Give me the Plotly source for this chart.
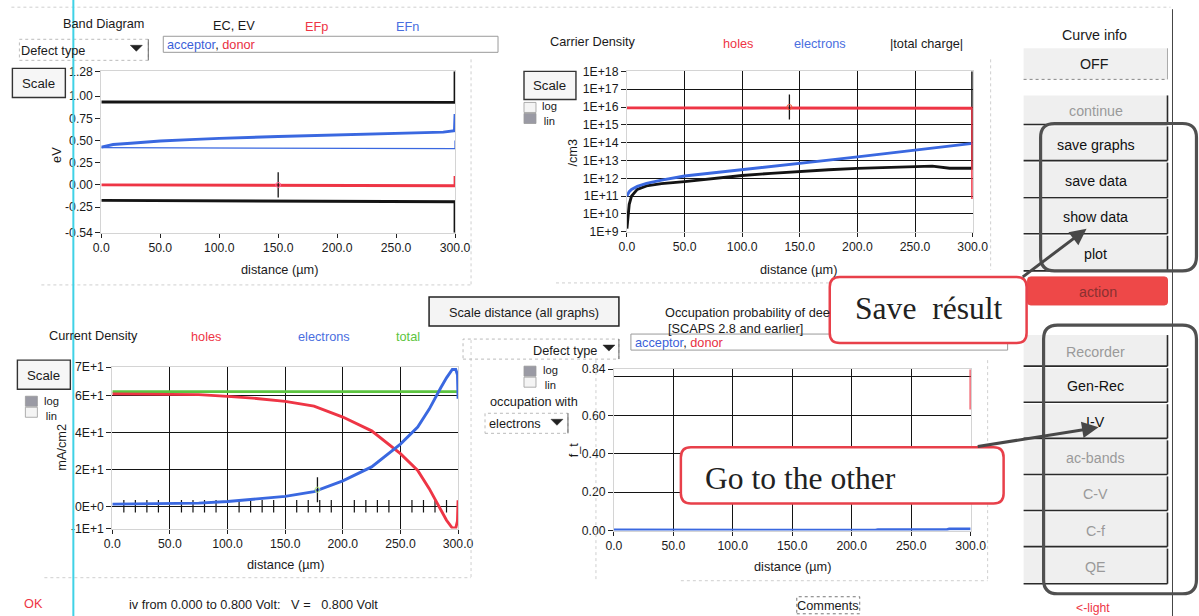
import plotly.graph_objects as go

# screen layout is described in window pixels (1199 x 616); the figure canvas is
# slightly larger and offset, so window pixels are converted to canvas fractions
SX, AX = 0.981, 7.6
SY, AY = 0.975, 7.8
W, H = 1214, 624

# ---------------- data ----------------
dist_ticks = [0, 50, 100, 150, 200, 250, 300]
dist_labels = ["0.0", "50.0", "100.0", "150.0", "200.0", "250.0", "300.0"]

# Band diagram (eV)
ec_x = [0.0, 300.0, 300.0]
ec_v = [0.935, 0.93, 1.28]
ev_x = [0.0, 300.0, 300.0]
ev_v = [-0.175, -0.19, -0.54]
efp_x = [0.0, 150.0, 300.0, 300.0]
efp_v = [0.0, -0.005, -0.01, 0.10]
efn_x = [0, 5, 10, 25, 50, 75, 100, 150, 200, 250, 290, 299.5, 300]
efn_v = [0.425, 0.44, 0.455, 0.47, 0.495, 0.51, 0.525, 0.545, 0.56, 0.58, 0.595, 0.61, 0.80]
lvl_x = [0.0, 300.0, 300.0]
lvl_v = [0.42, 0.41, 0.50]
band_ticks = [1.28, 1.00, 0.75, 0.50, 0.25, 0.00, -0.25, -0.54]
band_labels = ["1.28", "1.00", "0.75", "0.50", "0.25", "0.00", "-0.25", "-0.54"]

# Carrier density (/cm3)
n_x = [0, 1, 2, 4, 9, 17, 30, 50, 75, 100, 125, 150, 175, 200, 225, 250, 265, 280, 300]
n_v = [1.0e11, 1.4e11, 1.8e11, 2.4e11, 3.5e11, 5.2e11, 7.9e11, 1.35e12, 2.0e12, 2.95e12,
       4.5e12, 6.9e12, 1.05e13, 1.6e13, 2.45e13, 3.7e13, 4.8e13, 6.3e13, 9.1e13]
q_x = [0, 1, 2, 4, 9, 17, 30, 50, 75, 100, 125, 150, 175, 200, 225, 250, 265, 280, 300, 300]
q_v = [1.5e9, 1.2e10, 3.5e10, 1.0e11, 2.4e11, 3.8e11, 5.0e11, 6.5e11, 1.0e12, 1.45e12,
       1.9e12, 2.5e12, 3.0e12, 3.6e12, 4.0e12, 4.8e12, 4.8e12, 3.7e12, 3.7e12, 1.0e18]
p_x = [0.0, 300.0, 300.0]
p_v = [9.0e15, 8.6e15, 7.0e10]
dens_ticks = [1e18, 1e17, 1e16, 1e15, 1e14, 1e13, 1e12, 1e11, 1e10, 1e9]
dens_labels = ["1E+18", "1E+17", "1E+16", "1E+15", "1E+14", "1E+13", "1E+12", "1E+11", "1E+10", "1E+9"]
dens_grid = [1e17, 1e16, 1e15, 1e14, 1e13, 1e12, 1e11, 1e10]

# Current density (mA/cm2)
j_x = [0, 25, 50, 75, 100, 125, 150, 175, 200, 225, 250, 265, 275, 285, 290, 295, 298, 299.5, 300]
jp_v = [61.1, 61.1, 61.0, 60.7, 59.7, 58.6, 57.0, 54.4, 48.5, 41.0, 28.6, 19.5, 9.6, -2.2,
        -7.6, -11.8, -11.8, -8.0, 3.3]
jn_v = [1.2, 1.3, 1.4, 1.7, 2.6, 3.8, 5.4, 8.0, 13.8, 21.4, 33.8, 43.0, 52.8, 64.4,
        69.8, 74.3, 74.3, 71.5, 58.4]
jt_x = [0.0, 300.0]
jt_v = [62.3, 62.3]
cur_range = [-12.1, 75.6]
cur_ticks = [75.6, 60, 40, 20, 0, -12.1]
cur_labels = ["7E+1", "6E+1", "4E+1", "2E+1", "0E+0", "-1E+1"]
cur_grid = [60, 40, 20, 0]

# Occupation probability f_t
occ_x = [0, 100, 150, 220, 222, 280, 282, 300]
occ_acc = [0.003, 0.002, 0.001, 0.002, 0.005, 0.005, 0.009, 0.009]
occ_don_x = [300.0, 300.0]
occ_don = [0.84, 0.63]
occ_ticks = [0.84, 0.60, 0.40, 0.20, 0.00]
occ_labels = ["0.84", "0.60", "0.40", "0.20", "0.00"]
occ_grid = [0.8, 0.6, 0.4, 0.2]

# graph cursors
cursor_band = (150.0, 0.0)
cursor_dens = (141.0, 1e16)
cursor_cur = (178.0, 9.0)

# ---------------- helpers ----------------
def X(px):
    return ((px - AX) / SX) / W

def Y(py):
    return 1 - ((py - AY) / SY) / H

FS = 1 / SX  # font scale so that text keeps its screen size

RED = "#ee3545"
BLUE = "#3a68e0"
BLACK = "#141414"
GREEN = "#5cc440"
LBLUE = "#4a6ee0"
FONT = "Liberation Sans"

fig = go.Figure()

def line(x, y, color, width, ax):
    fig.add_trace(go.Scatter(x=x, y=y, mode="lines", line=dict(color=color, width=width),
                             xaxis="x" + ax, yaxis="y" + ax, hoverinfo="skip",
                             showlegend=False))

def cursor(pt, ax):
    fig.add_trace(go.Scatter(x=[pt[0]], y=[pt[1]], mode="markers",
                             marker=dict(symbol="line-ns", size=18,
                                         line=dict(color=BLACK, width=1.3)),
                             xaxis="x" + ax, yaxis="y" + ax, showlegend=False, hoverinfo="skip"))
    fig.add_trace(go.Scatter(x=[pt[0]], y=[pt[1]], mode="markers",
                             marker=dict(symbol="circle-open", size=5,
                                         line=dict(color=BLACK, width=1)),
                             xaxis="x" + ax, yaxis="y" + ax, showlegend=False, hoverinfo="skip"))

LW = 2.9

# Band diagram
line(ec_x, ec_v, BLACK, LW, "")
line(ev_x, ev_v, BLACK, LW, "")
line(lvl_x, lvl_v, BLUE, 1.3, "")
line(efn_x, efn_v, BLUE, LW, "")
line(efp_x, efp_v, RED, LW, "")
cursor(cursor_band, "")

# Carrier density
line(q_x, q_v, BLACK, LW, "2")
line(n_x, n_v, BLUE, LW, "2")
line(p_x, p_v, RED, LW, "2")
cursor(cursor_dens, "2")

# Current density: small marks along the zero line
zero_marks = [v for v in range(10, 300, 10) if v % 50 != 0]
fig.add_trace(go.Scatter(x=zero_marks, y=[0] * len(zero_marks), mode="markers",
                         marker=dict(symbol="line-ns", size=9, line=dict(color=BLACK, width=1.2)),
                         xaxis="x3", yaxis="y3", showlegend=False, hoverinfo="skip"))
line(jt_x, jt_v, GREEN, LW, "3")
line(j_x, jp_v, RED, LW, "3")
line(j_x, jn_v, BLUE, LW, "3")
cursor(cursor_cur, "3")

# Occupation
line(occ_x, occ_acc, BLUE, LW, "4")
line(occ_don_x, occ_don, RED, 2.2, "4")

# ---------------- axes ----------------
TICKFONT = dict(family=FONT, size=12 * FS, color="#1a1a1a")

def xaxis(domain, anchor, grid):
    d = dict(domain=[X(domain[0]), X(domain[1])], anchor=anchor, range=[0, 300],
             tickvals=dist_ticks, ticktext=dist_labels, ticks="outside", ticklen=4,
             tickcolor="#222", tickwidth=1.2, showgrid=False, zeroline=False,
             showline=True, linecolor="#d4d4d4", linewidth=1, mirror=True,
             tickfont=TICKFONT, fixedrange=True)
    if grid:
        d["minor"] = dict(tickvals=[50, 100, 150, 200, 250], showgrid=True,
                          gridcolor=BLACK, gridwidth=1.4, ticks="")
    return d

def yaxis(domain, anchor, rng, tv, tt, grid=None, typ="linear"):
    d = dict(domain=[Y(domain[1]), Y(domain[0])], anchor=anchor, range=rng, type=typ,
             tickvals=tv, ticktext=tt, ticks="outside", ticklen=5, tickcolor="#222",
             tickwidth=1.2, showgrid=False, zeroline=False, showline=True,
             linecolor="#d4d4d4", linewidth=1, mirror=True,
             tickfont=TICKFONT, fixedrange=True)
    if grid:
        d["minor"] = dict(tickvals=grid, showgrid=True, gridcolor=BLACK, gridwidth=1.4, ticks="")
    return d

layout_axes = dict(
    xaxis=xaxis((100, 454), "y", False),
    yaxis=yaxis((72, 233), "x", [-0.54, 1.28], band_ticks, band_labels),
    xaxis2=xaxis((626, 972), "y2", True),
    yaxis2=yaxis((72, 232), "x2", [9, 18], dens_ticks, dens_labels, dens_grid, "log"),
    xaxis3=xaxis((111, 457), "y3", True),
    yaxis3=yaxis((367, 528), "x3", cur_range, cur_ticks, cur_labels, cur_grid),
    xaxis4=xaxis((613, 970), "y4", True),
    yaxis4=yaxis((369, 530), "x4", [0, 0.84], occ_ticks, occ_labels, occ_grid),
)

# ---------------- texts & widgets ----------------
annotations = []
shapes = []

def text(t, x, y, size=12.5, color="#1a1a1a", anchor="center", family=FONT, angle=0):
    annotations.append(dict(text=t, x=X(x), y=Y(y), xref="paper", yref="paper",
                            showarrow=False, xanchor=anchor, yanchor="middle",
                            textangle=angle, borderpad=0,
                            font=dict(family=family, size=size * FS, color=color)))

def rect(x0, y0, x1, y1, fill="rgba(0,0,0,0)", color="#333", width=1, dash="solid"):
    shapes.append(dict(type="rect", xref="paper", yref="paper", x0=X(x0), x1=X(x1),
                       y0=Y(y1), y1=Y(y0), fillcolor=fill,
                       line=dict(color=color, width=width, dash=dash), layer="above"))

def seg(x0, y0, x1, y1, color="#333", width=1, dash="solid"):
    shapes.append(dict(type="line", xref="paper", yref="paper", x0=X(x0), x1=X(x1),
                       y0=Y(y0), y1=Y(y1), line=dict(color=color, width=width, dash=dash),
                       layer="above"))

def tri(cx, cy):
    p = "M %f,%f L %f,%f L %f,%f Z" % (X(cx - 6), Y(cy - 3), X(cx + 6), Y(cy - 3), X(cx), Y(cy + 3))
    shapes.append(dict(type="path", xref="paper", yref="paper", path=p, fillcolor="#222",
                       line=dict(color="#222", width=0.5), layer="above"))

def rrect(x0, y0, x1, y1, r, color, width, fill="rgba(0,0,0,0)"):
    pts = [
        ("M", [(x0 + r, y0)]), ("L", [(x1 - r, y0)]), ("Q", [(x1, y0), (x1, y0 + r)]),
        ("L", [(x1, y1 - r)]), ("Q", [(x1, y1), (x1 - r, y1)]), ("L", [(x0 + r, y1)]),
        ("Q", [(x0, y1), (x0, y1 - r)]), ("L", [(x0, y0 + r)]), ("Q", [(x0, y0), (x0 + r, y0)]),
    ]
    p = " ".join(c + " " + " ".join("%f,%f" % (X(a), Y(b)) for a, b in ps) for c, ps in pts) + " Z"
    shapes.append(dict(type="path", xref="paper", yref="paper", path=p, fillcolor=fill,
                       line=dict(color=color, width=width), layer="above"))

def button(x0, y0, x1, y1, label, tcolor="#111", fill="#efefef", size=14):
    rect(x0, y0, x1, y1, fill=fill, color=fill, width=0)
    seg(x0, y1, x1, y1, "#2a2a2a", 1.6)
    seg(x1, y0, x1, y1, "#2a2a2a", 1.6)
    text(label, (x0 + x1) / 2, (y0 + y1) / 2 + 1, size=size, color=tcolor)

def checkbox(x, y, log_on):
    for i, on in enumerate([log_on, not log_on]):
        rect(x, y + i * 11, x + 12, y + i * 11 + 10, fill="#9a9aa4" if on else "#f4f4f4",
             color="#9a9a9a", width=0.8)

def loglin(x, y):
    text("log<br>lin", x, y, size=11, anchor="left")

# faint panel frames
for a in [(10, 8, 1170, 8), (40, 285, 470, 285), (470, 60, 470, 285), (555, 283, 830, 283),
          (990, 60, 990, 270), (43, 577, 470, 577), (680, 580, 987, 580), (987, 360, 987, 580),
          (470, 340, 470, 577), (595, 360, 595, 580)]:
    seg(*a, color="#cfcfcf", width=1, dash="dot")

# Band diagram header
text("Band Diagram", 102, 24)
text("EC, EV", 233, 26)
text("EFp", 315, 27, color=RED)
text("EFn", 406, 27, color=LBLUE)
rect(18, 40, 147, 61, color="#bbbbbb", width=1, dash="dot")
seg(147, 40, 147, 61, "#666", 1)
text("Defect type", 19, 51, anchor="left")
tri(135, 49)
rect(162, 37, 497, 53, color="#9a9a9a", width=1)
text('<span style="color:#3b5fd8">acceptor</span>, <span style="color:#e8303f">donor</span>',
     165, 45, anchor="left")
rect(11, 69, 64, 98, fill="#f6f6f6", color="#333", width=1.4)
text("Scale", 37, 84, size=13)
text("eV", 55, 155, angle=-90)
text("distance (µm)", 278, 270)

# Carrier density header
text("Carrier Density", 592, 42)
text("holes", 737, 44, color=RED)
text("electrons", 819, 44, color=LBLUE)
text("|total charge|", 926, 44)
rect(523, 72, 575, 100, fill="#f6f6f6", color="#333", width=1.4)
text("Scale", 549, 86, size=13)
checkbox(523, 103, False)
loglin(540, 114)
text("/cm3", 572, 153, angle=-90)
text("distance (µm)", 798, 270)

# Current density header
text("Current Density", 92, 335)
text("holes", 205, 336, color=RED)
text("electrons", 323, 336, color=LBLUE)
text("total", 407, 336, color=GREEN)
rect(16, 360, 69, 389, fill="#f6f6f6", color="#333", width=1.4)
text("Scale", 42, 375, size=13)
checkbox(24, 396, True)
loglin(42, 408)
text("mA/cm2", 60, 447, angle=-90)
text("distance (µm)", 284, 564)

# centre controls
rect(428, 297, 618, 326, fill="#f4f4f4", color="#222", width=1.5)
text("Scale distance (all graphs)", 523, 312)
rect(462, 339, 618, 359, color="#bbbbbb", width=1, dash="dot")
seg(618, 339, 618, 359, "#666", 1)
text("Defect type", 597, 350, anchor="right")
tri(608, 348)
checkbox(523, 366, True)
loglin(541, 377)
text("occupation with", 533, 401)
rect(484, 413, 567, 433, color="#bbbbbb", width=1, dash="dot")
seg(567, 413, 567, 433, "#666", 1)
text("electrons", 487, 423, anchor="left")
tri(556, 422)

# Occupation header
text("Occupation probability of dee", 663, 312, anchor="left")
text("[SCAPS 2.8 and earlier]", 666, 328, anchor="left")
rect(630, 334, 1007, 350, color="#9a9a9a", width=1)
text('<span style="color:#3b5fd8">acceptor</span>, <span style="color:#e8303f">donor</span>',
     633, 342, anchor="left")
text("f_t", 572, 449, angle=-90)
text("distance (µm)", 792, 566)

# bottom line
text("OK", 32, 603, color=RED)
text("iv from 0.000 to 0.800 Volt:   V =   0.800 Volt", 252, 604)
rect(796, 596, 859, 613, color="#777", width=1, dash="dot")
text("Comments", 827, 605)

# right control column
seg(1172, 10, 1172, 616, "#444", 1)
text("Curve info", 1094, 36, size=14)
rect(1023, 49, 1167, 80, fill="#f0f0f0", color="#f0f0f0", width=0)
seg(1023, 80, 1167, 80, "#888", 1, "dot")
seg(1167, 49, 1167, 80, "#aaa", 1)
text("OFF", 1094, 65, size=14)
buttons = [
    ("continue", 96, 125, "#9a9a9a"),
    ("save graphs", 127, 161, "#111"),
    ("save data", 163, 198, "#111"),
    ("show data", 199, 234, "#111"),
    ("plot", 236, 271, "#111"),
    ("Recorder", 335, 366, "#9a9a9a"),
    ("Gen-Rec", 368, 402, "#111"),
    ("I-V", 404, 438, "#111"),
    ("ac-bands", 440, 474, "#9a9a9a"),
    ("C-V", 476, 510, "#9a9a9a"),
    ("C-f", 512, 546, "#9a9a9a"),
    ("QE", 548, 583, "#9a9a9a"),
]
for lab, y0, y1, c in buttons:
    button(1023, y0, 1167, y1, lab, tcolor=c)
rrect(1027, 277, 1167, 305, 3, "#e84848", 1, fill="#ee4848")
text("action", 1097, 292, size=14, color="#8a3030")
text("<-light", 1092, 607, size=12, color=RED)

# callout boxes
rrect(1040, 124, 1196, 271, 14, "#505050", 3.2)
rrect(1043, 325, 1196, 593, 14, "#505050", 3.2)
rrect(829, 277, 1026, 343, 10, "#e8404a", 2.5, fill="white")
text("Save  résult", 928, 309, size=31, color="#222", family="Liberation Serif")
rrect(680, 447, 1003, 503, 10, "#e8404a", 2.5, fill="white")
text("Go to the other", 800, 478, size=31, color="#222", family="Liberation Serif")

# arrows
for tail, head in [((1022, 277), (1086, 229)), ((978, 446), (1098, 427))]:
    annotations.append(dict(x=X(head[0]), y=Y(head[1]), xref="paper", yref="paper",
                            ax=(tail[0] - head[0]) / SX, ay=(tail[1] - head[1]) / SY,
                            axref="pixel", ayref="pixel", showarrow=True, arrowhead=2,
                            arrowsize=1.1, arrowwidth=3, arrowcolor="#484848", text=""))

# cyan marker line
seg(72, 0, 72, 616, "#3fd2e6", 2)

fig.update_layout(
    width=W, height=H, autosize=False,
    margin=dict(l=0, r=0, t=0, b=0, pad=0),
    paper_bgcolor="white", plot_bgcolor="white",
    showlegend=False, annotations=annotations, shapes=shapes,
    font=dict(family=FONT, size=12, color="#1a1a1a"),
    **layout_axes,
)

fig.write_html("out.html", config={"displayModeBar": False})
